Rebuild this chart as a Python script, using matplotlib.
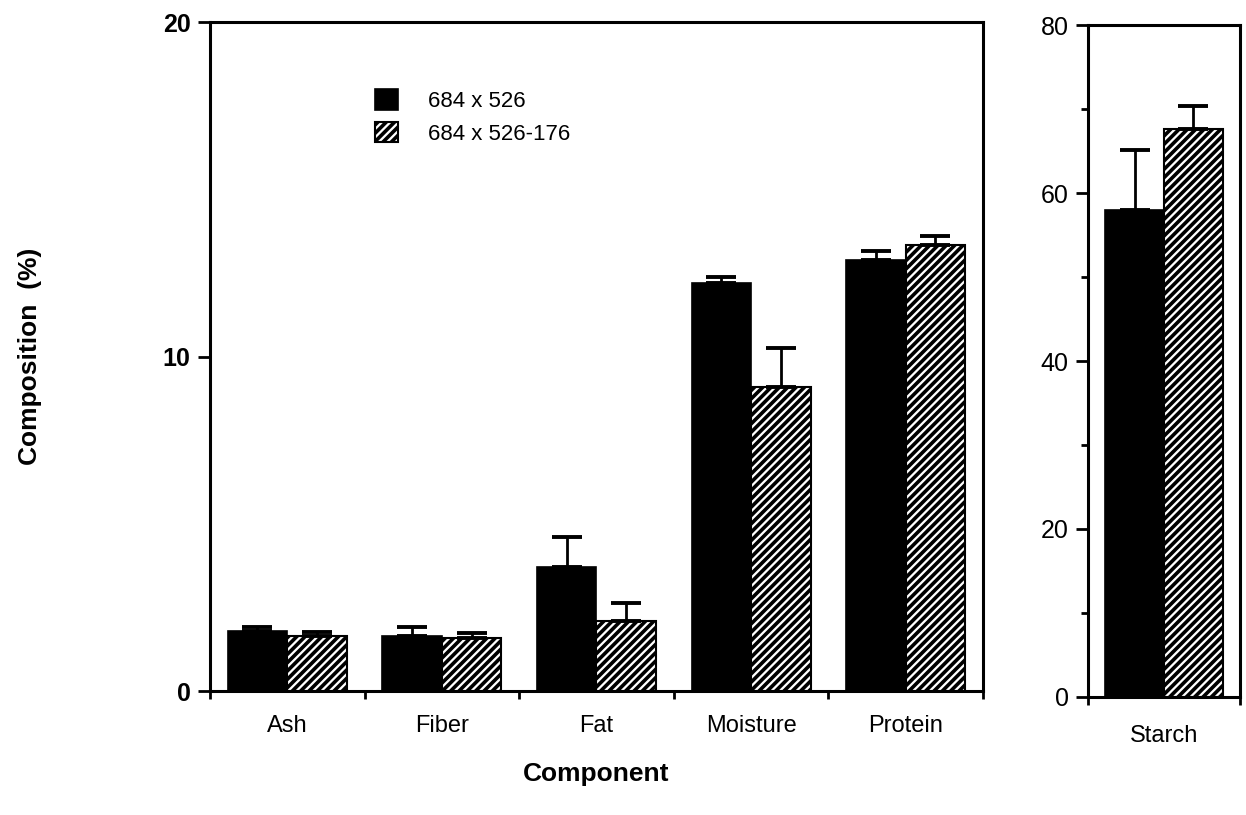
import matplotlib
matplotlib.use("Agg")
import matplotlib.pyplot as plt
import numpy as np

plt.rcParams['font.family'] = ['Liberation Sans', 'DejaVu Sans']
plt.rcParams['hatch.linewidth'] = 2.6

categories = ["Ash", "Fiber", "Fat", "Moisture", "Protein"]
series_names = ["684 x 526", "684 x 526-176"]
vals_a = [1.80, 1.64, 3.70, 12.20, 12.88]
errs_a = [0.12, 0.27, 0.90, 0.18, 0.27]
vals_b = [1.64, 1.58, 2.09, 9.09, 13.33]
errs_b = [0.12, 0.15, 0.54, 1.17, 0.27]

starch_label = ["Starch"]
starch_a = [58.0]
starch_err_a = [7.1]
starch_b = [67.6]
starch_err_b = [2.8]

main_yticks = [0, 10, 20]
starch_yticks = [0, 20, 40, 60, 80]

fig = plt.figure(figsize=(12.46, 8.15), dpi=100)
ax = fig.add_axes([0.1685, 0.152, 0.6204, 0.821])
ax2 = fig.add_axes([0.8732, 0.1448, 0.122, 0.8245])

w = 0.385
lw = 2.2
ekw = dict(elinewidth=2.0, capthick=2.8, capsize=11, ecolor='black')

x = np.arange(len(categories))
ax.bar(x - w/2, vals_a, w, color='black', edgecolor='black', linewidth=1.2,
       yerr=[np.zeros(len(x)), errs_a], error_kw=ekw, label=series_names[0])
ax.bar(x + w/2, vals_b, w, color='white', edgecolor='black', linewidth=1.5,
       hatch='////', yerr=[np.zeros(len(x)), errs_b], error_kw=ekw, label=series_names[1])

ax.set_xlim(-0.5, len(categories) - 0.5)
ax.set_ylim(0, 20)
ax.set_yticks(main_yticks)
ax.set_yticklabels([str(t) for t in main_yticks], fontsize=18, fontweight='bold')
ax.set_xticks(x)
ax.set_xticklabels(categories, fontsize=17)
ax.set_xticks(np.arange(len(categories) + 1) - 0.5, minor=True)
ax.tick_params(axis='x', which='major', length=0, pad=17)
ax.tick_params(axis='x', which='minor', length=6, width=2, direction='out')
ax.tick_params(axis='y', which='major', length=9, width=2, direction='out', pad=5)
for s in ax.spines.values():
    s.set_linewidth(lw)

leg = ax.legend(loc='upper left', bbox_to_anchor=(0.2135, 0.900), frameon=False,
                fontsize=16, handlelength=1.05, handleheight=1.05,
                handletextpad=1.35, labelspacing=0.45, borderpad=0,
                borderaxespad=0)

ax.set_ylabel("Composition  (%)", fontsize=19, fontweight='bold', labelpad=87)
ax.set_xlabel("Component", fontsize=19, fontweight='bold', labelpad=18)

# Starch panel
xs = np.arange(len(starch_label))
ax2.bar(xs - w/2, starch_a, w, color='black', edgecolor='black', linewidth=1.2,
        yerr=[np.zeros(len(xs)), starch_err_a], error_kw=ekw)
ax2.bar(xs + w/2, starch_b, w, color='white', edgecolor='black', linewidth=1.5,
        hatch='////', yerr=[np.zeros(len(xs)), starch_err_b], error_kw=ekw)
ax2.set_xlim(-0.5, 0.5)
ax2.set_ylim(0, 80)
ax2.set_yticks(starch_yticks)
ax2.set_yticklabels([str(t) for t in starch_yticks], fontsize=18)
ax2.set_yticks([10, 30, 50, 70], minor=True)
ax2.set_xticks(xs)
ax2.set_xticklabels(starch_label, fontsize=17)
ax2.set_xticks([-0.5, 0.5], minor=True)
ax2.tick_params(axis='x', which='major', length=0, pad=20)
ax2.tick_params(axis='x', which='minor', length=6, width=2, direction='out')
ax2.tick_params(axis='y', which='major', length=9, width=2, direction='out', pad=5)
ax2.tick_params(axis='y', which='minor', length=5, width=2, direction='out')
for s in ax2.spines.values():
    s.set_linewidth(lw)

fig.savefig("out.png", dpi=100)
